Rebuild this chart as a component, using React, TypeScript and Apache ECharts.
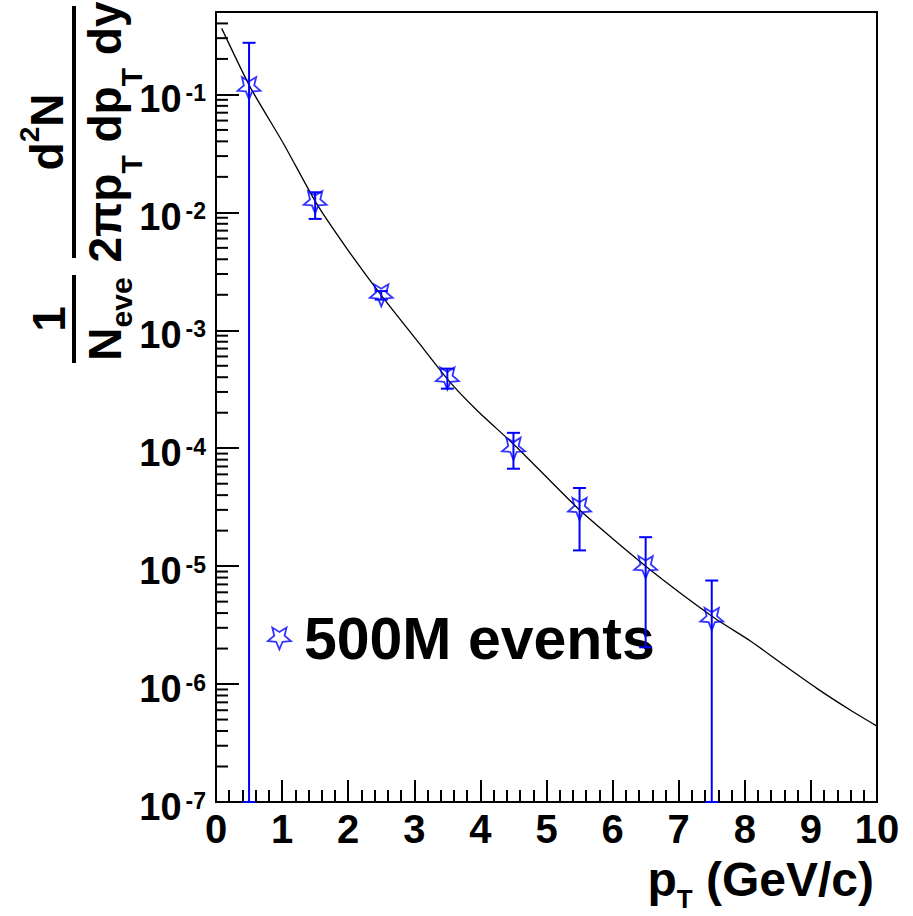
import React, { useEffect, useRef } from 'react';
import * as echarts from 'echarts';

const FONT = '"Liberation Sans", Arial, Helvetica, sans-serif';
const BLUE = '#0000ff';

// Axis ranges
const xMin = 0;
const xMax = 10;
const xStep = 1;
const yMin = 1e-7;
const yMax = 0.5;

// Measured points (pT bin centres) with asymmetric error bars
const seriesName = '500M events';
const ptCenters = [0.5, 1.5, 2.5, 3.5, 4.5, 5.5, 6.5, 7.5];
const yieldValues = [0.113, 0.0122, 0.00198, 3.9e-4, 9.9e-5, 3.06e-5, 9.8e-6, 3.57e-6];
const errHigh = [0.274, 0.0148, 0.00215, 4.73e-4, 1.35e-4, 4.6e-5, 1.76e-5, 7.55e-6];
const errLow = [0, 0.0088, 0.00182, 3.2e-4, 6.7e-5, 1.36e-5, 2.05e-6, 0]; // 0 = below axis range

// Fit curve
const fitPt = [0.086, 0.515, 1.02, 1.52, 1.98, 2.48, 3.04, 3.54, 3.95, 4.55, 5.51, 6.52, 7.53, 8.08, 8.59, 9.09, 9.6, 10];
const fitYield = [0.363, 0.116, 0.0384, 0.0119, 0.00493, 0.00205, 8.2e-4, 3.63e-4, 2.09e-4, 1.02e-4, 2.96e-5, 9.8e-6, 3.67e-6, 2.33e-6, 1.45e-6, 9.2e-7, 6.0e-7, 4.4e-7];

// Axis title texts: t = text, s = font size, d = baseline shift (positive = subscript)
const yTitleNum1 = [{ t: '1', s: 46, d: 0 }];
const yTitleDen1 = [{ t: 'N', s: 46, d: 0 }, { t: 'eve', s: 30, d: 11 }];
const yTitleNum2 = [{ t: 'd', s: 46, d: 0 }, { t: '2', s: 28, d: -24 }, { t: 'N', s: 46, d: 0 }];
const yTitleDen2 = [
  { t: '2πp', s: 46, d: 0 }, { t: 'T', s: 30, d: 21 },
  { t: ' dp', s: 46, d: 0 }, { t: 'T', s: 30, d: 21 },
  { t: ' dy', s: 46, d: 0 },
];
const xTitle = [{ t: 'p', s: 48, d: 0 }, { t: 'T', s: 26, d: 12 }, { t: ' (GeV/c)', s: 48, d: 0 }];

const STAR = 'path://M10 20L7.355 13.64L0.49 13.09L5.72 8.61L4.12 1.91L10 5.5L15.88 1.91L14.28 8.61L19.51 13.09L12.645 13.64Z';

type Seg = { t: string; s: number; d: number };

let measureCtx: CanvasRenderingContext2D | null = null;
function textWidth(t: string, s: number): number {
  if (!measureCtx) measureCtx = document.createElement('canvas').getContext('2d');
  if (!measureCtx) return t.length * s * 0.55;
  measureCtx.font = `bold ${s}px ${FONT}`;
  return measureCtx.measureText(t).width;
}
function runWidth(segs: Seg[]) {
  return segs.reduce((a, g) => a + textWidth(g.t, g.s), 0);
}
const CENTRAL = 0.3465;

function textStyle(t: string, s: number) {
  return {
    text: t,
    font: `bold ${s}px ${FONT}`,
    fontSize: s,
    fontWeight: 'bold',
    fontFamily: FONT,
    lineHeight: Math.round(s * 0.85),
    fill: '#000',
    align: 'left',
    verticalAlign: 'middle',
    textAlign: 'left',
    textVerticalAlign: 'middle',
  };
}

// horizontal run: starting x, baseline y
function runH(segs: Seg[], x0: number, baseY: number) {
  let x = x0;
  const out: any[] = [];
  segs.forEach((g) => {
    out.push({ type: 'text', x, y: baseY + g.d - CENTRAL * g.s, style: textStyle(g.t, g.s), silent: true });
    x += textWidth(g.t, g.s);
  });
  return out;
}
// vertical run, reading bottom-to-top: starting y (bottom), baseline x
function runV(segs: Seg[], y0: number, baseX: number) {
  let y = y0;
  const out: any[] = [];
  segs.forEach((g) => {
    out.push({
      type: 'text', x: baseX + g.d - CENTRAL * g.s, y, rotation: Math.PI / 2,
      style: textStyle(g.t, g.s), silent: true,
    });
    y -= textWidth(g.t, g.s);
  });
  return out;
}

export default function App() {
  const ref = useRef<HTMLDivElement>(null);
  useEffect(() => {
    if (!ref.current) return;
    const chart = echarts.init(ref.current, undefined, { renderer: 'svg' });

    const yMinorTicks: number[] = [];
    for (let e = -7; e <= -1; e++) {
      for (let m = 2; m <= 9; m++) {
        const v = m * Math.pow(10, e);
        if (v < yMax) yMinorTicks.push(v);
      }
    }

    // y title layout
    const line2Top = 6, line2Bot = 258, line1Top = 275, line1Bot = 363;
    const c2 = (line2Top + line2Bot) / 2;
    const c1 = (line1Top + line1Bot) / 2;
    const numBase = 63, denBase = 121;
    const graphics: any[] = [
      ...runV(yTitleNum2, c2 + runWidth(yTitleNum2) / 2, numBase),
      ...runV(yTitleDen2, c2 + runWidth(yTitleDen2) / 2, denBase),
      ...runV(yTitleNum1, c1 + runWidth(yTitleNum1) / 2, numBase + 2),
      ...runV(yTitleDen1, c1 + runWidth(yTitleDen1) / 2, denBase),
      { type: 'rect', shape: { x: 72, y: line2Top, width: 4, height: line2Bot - line2Top }, style: { fill: '#000' }, silent: true },
      { type: 'rect', shape: { x: 72, y: line1Top, width: 4, height: line1Bot - line1Top }, style: { fill: '#000' }, silent: true },
      ...runH(xTitle, 874 - runWidth(xTitle), 896),
    ];

    const option: any = {
      animation: false,
      backgroundColor: '#ffffff',
      grid: {
        left: 216, top: 12, right: 36, bottom: 114,
        show: true, borderColor: '#000', borderWidth: 2, backgroundColor: 'transparent',
      },
      legend: {
        data: [{
          name: seriesName, icon: STAR,
          itemStyle: { color: 'transparent', borderColor: BLUE, borderWidth: 1.8 },
        }],
        left: 267, top: 609, padding: 0,
        itemWidth: 23, itemHeight: 22,
        selectedMode: false,
        textStyle: {
          fontSize: 59, fontWeight: 'bold', fontFamily: FONT, color: '#000',
          lineHeight: 58, padding: [0, 0, 0, 8],
        },
      },
      xAxis: {
        type: 'value', min: xMin, max: xMax, interval: xStep,
        axisLine: { lineStyle: { color: '#000', width: 2 } },
        axisTick: { inside: true, length: 22, lineStyle: { color: '#000', width: 2 } },
        minorTick: { show: true, splitNumber: 5, length: 12, lineStyle: { color: '#000', width: 2 } },
        splitLine: { show: false },
        minorSplitLine: { show: false },
        axisLabel: {
          fontSize: 40, fontWeight: 'bold', fontFamily: FONT, color: '#000',
          margin: 12, lineHeight: 30,
        },
      },
      yAxis: {
        type: 'log', logBase: 10, min: yMin, max: yMax, interval: 1,
        axisLine: { lineStyle: { color: '#000', width: 2 } },
        axisTick: { inside: true, length: 23, lineStyle: { color: '#000', width: 2 } },
        splitLine: { show: false },
        axisLabel: {
          margin: 10,
          color: '#000',
          formatter: (v: number) => {
            const e = Math.log10(v);
            const r = Math.round(e);
            if (Math.abs(e - r) > 1e-6) return '';
            return `{b|10}{e|${r}}`;
          },
          rich: {
            b: { fontSize: 38, fontWeight: 'bold', fontFamily: FONT, color: '#000', lineHeight: 30, padding: [10, 0, 0, 0] },
            e: { fontSize: 23, fontWeight: 'bold', fontFamily: FONT, color: '#000', lineHeight: 23, verticalAlign: 'top', padding: [2, 0, 0, 4] },
          },
        },
      },
      graphic: graphics,
      series: [
        {
          name: 'fit', type: 'line', data: fitPt.map((x, i) => [x, fitYield[i]]),
          showSymbol: false, smooth: 0.2, silent: true,
          lineStyle: { color: '#000', width: 1.3 }, z: 2,
        },
        {
          type: 'custom', name: 'minorTicks', silent: true, z: 3,
          data: yMinorTicks.map((v) => [xMin, v]),
          encode: { x: 0, y: 1 },
          renderItem: (_p: any, api: any) => {
            const p = api.coord([xMin, api.value(1)]);
            return {
              type: 'line',
              shape: { x1: p[0], y1: p[1], x2: p[0] + 12, y2: p[1] },
              style: { stroke: '#000', lineWidth: 2 },
            };
          },
        },
        {
          type: 'custom', name: 'errors', silent: true, z: 4,
          data: ptCenters.map((x, i) => [x, yieldValues[i], errLow[i], errHigh[i]]),
          encode: { x: 0, y: 1 },
          renderItem: (_p: any, api: any) => {
            const x = api.value(0);
            const lo = Math.max(api.value(2), yMin);
            const hi = Math.min(api.value(3), yMax);
            const pt = api.coord([x, hi]);
            const pb = api.coord([x, lo]);
            const half = 6.5;
            const st = { stroke: BLUE, lineWidth: 2 };
            return {
              type: 'group',
              children: [
                { type: 'line', shape: { x1: pt[0], y1: pt[1], x2: pb[0], y2: pb[1] }, style: st },
                { type: 'line', shape: { x1: pt[0] - half, y1: pt[1], x2: pt[0] + half, y2: pt[1] }, style: st },
                { type: 'line', shape: { x1: pb[0] - half, y1: pb[1], x2: pb[0] + half, y2: pb[1] }, style: st },
              ],
            };
          },
        },
        {
          name: seriesName, type: 'scatter', z: 5,
          data: ptCenters.map((x, i) => [x, yieldValues[i]]),
          symbol: STAR, symbolSize: [23, 22],
          itemStyle: { color: 'transparent', borderColor: BLUE, borderWidth: 1.8 },
        },
      ],
    };
    chart.setOption(option);
    return () => chart.dispose();
  }, []);

  return <div ref={ref} style={{ position: 'fixed', left: 0, top: 0, width: 913, height: 916, background: '#fff' }} />;
}
